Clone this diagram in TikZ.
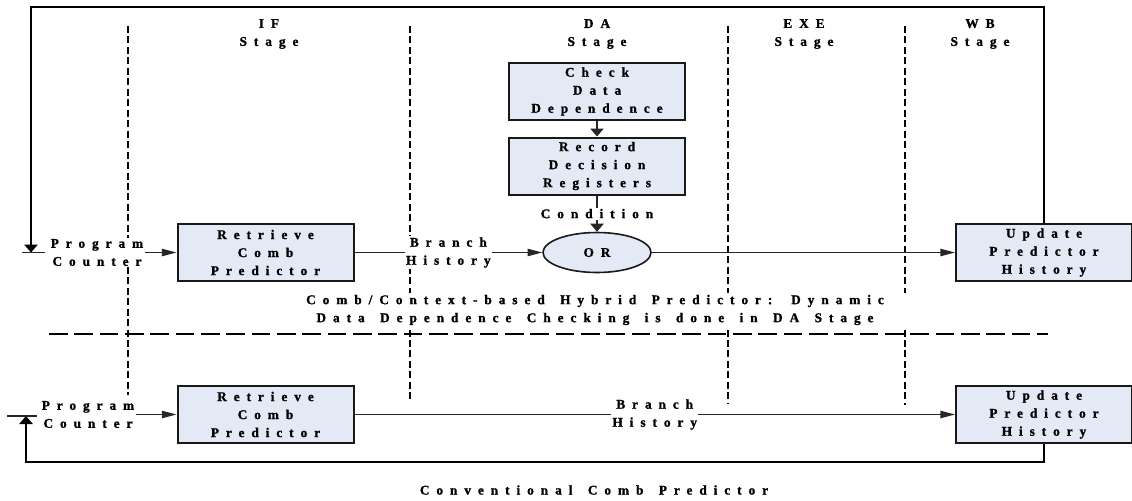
\documentclass[tikz,border=0pt]{standalone}
\usepackage{fontspec}
\setmainfont{Liberation Serif Bold}[LetterSpace=52, WordSpace=1.5, FakeBold=1.2]
\usetikzlibrary{arrows.meta,shapes.geometric}
\definecolor{boxfill}{RGB}{228,234,245}

\begin{document}
\begin{tikzpicture}[x=0.75pt,y=-0.75pt,
        every node/.style={font=\fontsize{10}{13.5}\selectfont, align=center},
        unit/.style={draw=black!90, line width=1.5pt, fill=boxfill, minimum width=132pt, minimum height=42.75pt, inner sep=0pt},
        gate/.style={ellipse, draw=black!90, line width=1.2pt, fill=boxfill, minimum width=81pt, minimum height=30pt, inner sep=0pt},
        lbl/.style={fill=white, inner sep=1pt},
        wire/.style={line width=1pt, draw=black!85},
        hwire/.style={wire, -{Triangle[length=11pt,width=5.5pt]}},
        vwire/.style={wire, -{Triangle[length=6pt,width=10pt]}},
        backwire/.style={line width=1.5pt, -{Triangle[length=6pt,width=10pt]}},
        stagesep/.style={line width=2.2pt, dash pattern=on 5.25pt off 2.6pt},
        rowsep/.style={line width=2.1pt, dash pattern=on 14pt off 5pt}]
            \useasboundingbox (0,0) rectangle (1132,500);

            \foreach \x/\y in {128/395, 410/402, 728/403, 905/405}
                \draw[stagesep] (\x,26) -- (\x,\y);
            \draw[rowsep] (49,334) -- (1048,334);

            \node (ifstage) at (269,34) {IF\\Stage};
            \node (dastage) at (597,34) {DA\\Stage};
            \node (exestage) at (804,34) {EXE\\Stage};
            \node (wbstage) at (980,34) {WB\\Stage};

            \node[unit] (chk) at (597,91.5) {Check\\Data\\Dependence};
            \node[unit] (rec) at (597,166) {Record\\Decision\\Registers};
            \node[gate] (or) at (597,252.5) {OR};

            \node[lbl] (pc1) at (97,252.5) {Program\\Counter};
            \node[unit] (ret1) at (265.5,252.5) {Retrieve\\Comb\\Predictor};
            \node[unit] (upd1) at (1044,252.5) {Update\\Predictor\\History};
            \coordinate (pcin1) at (31,252.5);
            \coordinate (fbtop) at (31,7);

            \node[lbl, minimum width=475pt, minimum height=25.5pt] (hybcap) at (595,310)
                {Comb/Context-based Hybrid Predictor: Dynamic\\Data Dependence Checking is done in DA Stage};

            \node[lbl] (pc2) at (88,414.5) {Program\\Counter};
            \node[unit] (ret2) at (265.5,414.5) {Retrieve\\Comb\\Predictor};
            \node[unit] (upd2) at (1044,414.5) {Update\\Predictor\\History};
            \coordinate (pcin2) at (26,416);
            \coordinate (fbbot) at (26,462);

            \node (convcap) at (594,490) {Conventional Comb Predictor};

            \draw[vwire] (chk) -- (rec);
            \draw[vwire] (rec) -- node[lbl] (cond) {Condition} (or);
            \draw[hwire] (pc1) -- (ret1);
            \draw[hwire] (ret1) -- node[lbl] (bh1) {Branch\\History} (or);
            \draw[hwire] (or) -- (upd1);
            \draw[backwire] (upd1.north) |- (fbtop) -- (pcin1);
            \draw[wire] (22,252.5) -- (45,252.5);

            \draw[hwire] (pc2) -- (ret2);
            \draw[hwire] (ret2) -- node[lbl] (bh2) {Branch\\History} (upd2);
            \draw[backwire] (upd2.south) |- (fbbot) -- (pcin2);
            \draw[wire] (7,416) -- (37,416);
        \end{tikzpicture}
\end{document}
